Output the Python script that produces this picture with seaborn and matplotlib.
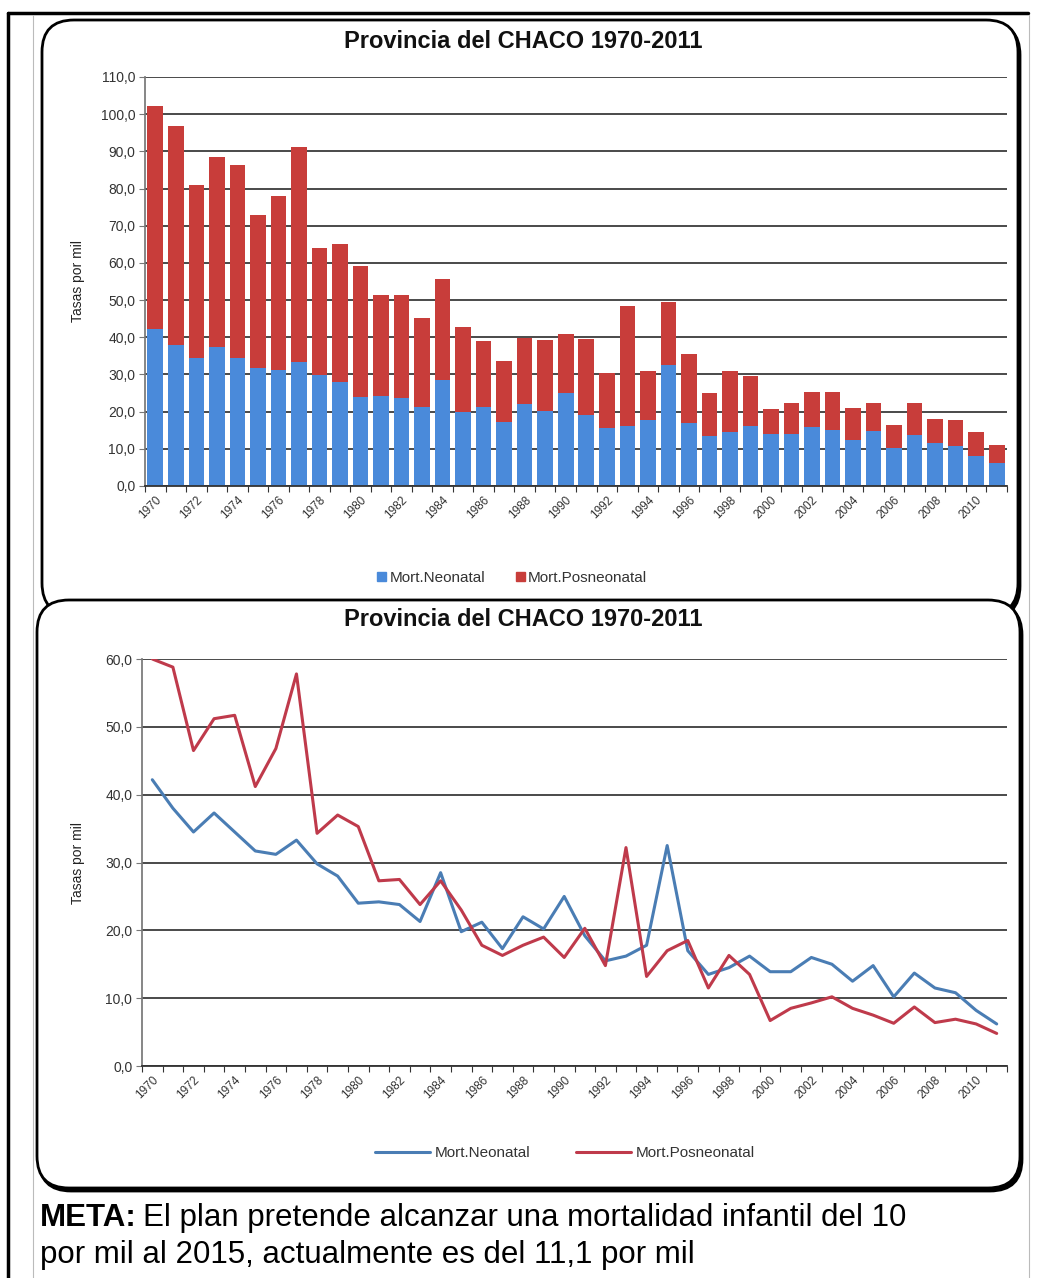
"""
Mortalidad infantil, Provincia del Chaco 1970-2011: barras apiladas + lineas.
"""
import matplotlib
matplotlib.use("Agg")
import matplotlib.pyplot as plt
import seaborn as sns
import pandas as pd
import numpy as np
from matplotlib.patches import FancyBboxPatch, Patch
from matplotlib.lines import Line2D
from matplotlib.ticker import FuncFormatter, FixedLocator

# === Datos (tasas por mil)
years = list(range(1970, 2012))
neonatal = [42.2, 38.0, 34.5, 37.3, 34.5, 31.7, 31.2, 33.3, 29.8, 28.0,
            24.0, 24.2, 23.8, 21.3, 28.5, 19.8, 21.2, 17.3, 22.0, 20.2,
            25.0, 19.2, 15.5, 16.2, 17.8, 32.5, 17.0, 13.5, 14.5, 16.2,
            13.9, 13.9, 16.0, 15.0, 12.5, 14.8, 10.2, 13.7, 11.5, 10.8,
            8.2, 6.2]
posneonatal = [60.0, 58.8, 46.5, 51.2, 51.7, 41.2, 46.8, 57.8, 34.3, 37.0,
               35.3, 27.3, 27.5, 23.8, 27.3, 23.0, 17.8, 16.3, 17.8, 19.0,
               16.0, 20.3, 14.8, 32.2, 13.2, 17.0, 18.5, 11.5, 16.3, 13.5,
               6.7, 8.5, 9.3, 10.2, 8.5, 7.5, 6.3, 8.7, 6.4, 6.9,
               6.2, 4.8]
series_names = ["Mort.Neonatal", "Mort.Posneonatal"]
title = "Provincia del CHACO 1970-2011"
y_title = "Tasas por mil"

# === Estilo
BAR_BLUE = "#4A8ADA"
BAR_RED = "#C83D3A"
LINE_BLUE = "#4A7DB4"
LINE_RED = "#BF3A4B"
GRID_COLOR = "#3C3C3C"
TICK_COLOR = "#333333"

sns.set_theme(style="white")
plt.rcParams['font.family'] = ['Liberation Sans', 'DejaVu Sans']

W, H = 1037, 1278
fig = plt.figure(figsize=(W / 100, H / 100), dpi=100)


def px_axes(x0, y0, x1, y1):
    return fig.add_axes([x0 / W, 1 - y1 / H, (x1 - x0) / W, (y1 - y0) / H])


def panel(x0, y0, x1, y1, z, lw=2.0):
    # rounded box in pixel coords (top-left origin), drawn in inches
    shadow = FancyBboxPatch((x0 / 100 + 0.02, (H - y1) / 100 - 0.03),
                            (x1 - x0) / 100, (y1 - y0) / 100,
                            boxstyle="round,pad=0,rounding_size=0.32",
                            transform=fig.dpi_scale_trans,
                            facecolor="black", edgecolor="black", lw=lw, zorder=z - 0.5)
    box = FancyBboxPatch((x0 / 100, (H - y1) / 100),
                         (x1 - x0) / 100, (y1 - y0) / 100,
                         boxstyle="round,pad=0,rounding_size=0.32",
                         transform=fig.dpi_scale_trans,
                         facecolor="white", edgecolor="black", lw=lw, zorder=z)
    fig.add_artist(shadow)
    fig.add_artist(box)


# outer frame
fig.add_artist(Line2D([8 / W, 1028 / W], [1 - 13 / H] * 2, color="black", lw=2.5,
                      transform=fig.transFigure))
fig.add_artist(Line2D([8 / W] * 2, [1 - 13 / H, 0], color="black", lw=2.5,
                      transform=fig.transFigure))
for xg in (33, 1029):
    fig.add_artist(Line2D([xg / W] * 2, [1 - 15 / H, 0], color="#BBBBBB", lw=0.8,
                          transform=fig.transFigure))

panel(42, 20, 1018, 615, z=-10)
panel(37, 600, 1020, 1188, z=-5)

comma_fmt = FuncFormatter(lambda v, p: f"{v:.1f}".replace(".", ","))
year_labels = [str(y) for y in years]
total = [n + p for n, p in zip(neonatal, posneonatal)]


def style_axis(ax, ymax):
    ax.set_facecolor("none")
    ax.set_ylim(0, ymax)
    ax.set_yticks(np.arange(0, ymax + 1, 10))
    ax.yaxis.set_major_formatter(comma_fmt)
    ax.yaxis.grid(True, color=GRID_COLOR, lw=1.3)
    ax.set_axisbelow(True)
    for s in ("top", "right"):
        ax.spines[s].set_visible(False)
    ax.spines["left"].set_color("#777777")
    ax.spines["bottom"].set_color("#333333")
    ax.spines["bottom"].set_linewidth(1.3)
    ax.tick_params(axis="y", which="major", left=True, length=4, width=0.8,
                   color="#777777", labelsize=10, labelcolor=TICK_COLOR, pad=3)
    ax.tick_params(axis="x", which="major", bottom=True, length=0,
                   labelsize=8.5, labelcolor=TICK_COLOR, pad=6)
    ax.tick_params(axis="x", which="minor", bottom=True, length=4, width=0.8,
                   color="#333333")
    ax.set_xlabel("")
    ax.set_ylabel(y_title, fontsize=10, color="#222222")
    for lab in ax.get_xticklabels():
        lab.set_rotation(45)
        lab.set_ha("right")
        lab.set_rotation_mode("anchor")


# === Grafico 1: barras apiladas
ax1 = px_axes(145, 77, 1007, 486)
sns.barplot(x=year_labels, y=total, color=BAR_RED, width=0.76, saturation=1,
            linewidth=0, ax=ax1)
sns.barplot(x=year_labels, y=neonatal, color=BAR_BLUE, width=0.76, saturation=1,
            linewidth=0, ax=ax1)
ax1.set_xlim(-0.5, len(years) - 0.5)
ax1.set_xticks(range(0, len(years), 2))
ax1.set_xticklabels(year_labels[::2])
ax1.xaxis.set_minor_locator(FixedLocator(np.arange(-0.5, len(years), 1)))
style_axis(ax1, 110)
ax1.yaxis.set_label_coords(-60 / 862, 0.5)

fig.text(0.505, 1 - 42 / H, title, ha="center", va="center",
         fontsize=17, fontweight="bold", color="#111111")
fig.legend(handles=[Patch(color=BAR_BLUE, label=series_names[0]),
                    Patch(color=BAR_RED, label=series_names[1])],
           loc="center", bbox_to_anchor=(512 / W, 1 - 578 / H), ncol=2,
           frameon=False, fontsize=11, handlelength=0.6, handleheight=0.6,
           handletextpad=0.2, columnspacing=2.0, labelcolor="#333333")

# === Grafico 2: lineas
df = pd.DataFrame({
    "year": years * 2,
    "tasa": neonatal + posneonatal,
    "serie": [series_names[0]] * len(years) + [series_names[1]] * len(years),
})
ax2 = px_axes(142, 659, 1007, 1066)
sns.lineplot(data=df, x="year", y="tasa", hue="serie",
             palette=[LINE_BLUE, LINE_RED], lw=2.2, legend=False, ax=ax2)
ax2.set_xlim(years[0] - 0.5, years[-1] + 0.5)
ax2.set_xticks(years[::2])
ax2.set_xticklabels(year_labels[::2])
ax2.xaxis.set_minor_locator(FixedLocator(np.arange(years[0] - 0.5, years[-1] + 1, 1)))
style_axis(ax2, 60)
ax2.yaxis.set_label_coords(-57 / 865, 0.5)

fig.text(0.505, 1 - 620 / H, title, ha="center", va="center",
         fontsize=17, fontweight="bold", color="#111111")
fig.legend(handles=[Line2D([], [], color=LINE_BLUE, lw=2.2, label=series_names[0]),
                    Line2D([], [], color=LINE_RED, lw=2.2, label=series_names[1])],
           loc="center", bbox_to_anchor=(565 / W, 1 - 1153 / H), ncol=2,
           frameon=False, fontsize=11, handlelength=3.6, handletextpad=0.3,
           columnspacing=3.0, labelcolor="#333333")

# === Texto META
renderer = fig.canvas.get_renderer()
t_bold = fig.text(40 / W, 1 - 1218 / H, "META:", ha="left", va="center",
                  fontsize=22.5, fontweight="bold", color="black")
bb = t_bold.get_window_extent(renderer=renderer)
fig.text(bb.x1 / W + 6 / W, 1 - 1218 / H,
         "El plan pretende alcanzar una mortalidad infantil del 10",
         ha="left", va="center", fontsize=22.5, color="black")
fig.text(40 / W, 1 - 1255 / H, "por mil al 2015, actualmente es del 11,1 por mil",
         ha="left", va="center", fontsize=22.5, color="black")

fig.savefig("out.png", dpi=100, facecolor="white")
plt.close(fig)
